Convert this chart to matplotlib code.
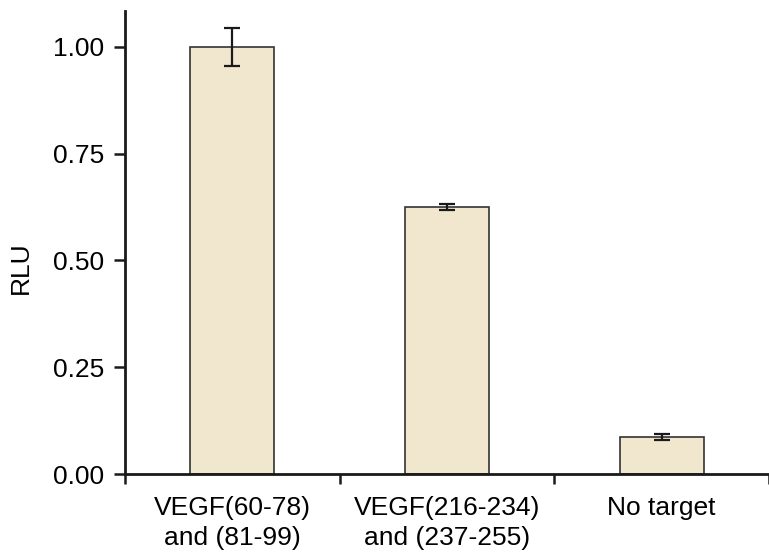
import matplotlib.pyplot as plt
import numpy as np

# values
categories = ["VEGF(60-78)\nand (81-99)", "VEGF(216-234)\nand (237-255)", "No target"]
rlu = [1.00, 0.625, 0.087]
rlu_err = [0.045, 0.006, 0.007]
yticks = [0.00, 0.25, 0.50, 0.75, 1.00]

plt.rcParams['font.family'] = ['Liberation Sans', 'DejaVu Sans']

fig = plt.figure(figsize=(7.69, 5.54), dpi=100)
ax = fig.add_axes([0.1625, 0.1444, 0.8375, 0.8365])

x = np.arange(len(categories))
ax.bar(x, rlu, width=0.39, color='#F1E6CE', edgecolor='#333333', linewidth=1.2, zorder=2)
ax.errorbar(x, rlu, yerr=rlu_err, fmt='none', ecolor='#1a1a1a',
            elinewidth=1.6, capsize=6, capthick=1.6, zorder=3)

ax.set_xlim(-0.5, 2.48)
ax.set_ylim(0, 1.085)

# labels at bar centres, tick marks between categories
ax.set_xticks(x)
ax.set_xticklabels(categories, fontsize=19, linespacing=1.3)
ax.tick_params(axis='x', which='major', length=0, pad=16)
ax.set_xticks(np.arange(-0.5, len(categories), 1.0), minor=True)
ax.tick_params(axis='x', which='minor', length=7, width=1.8, direction='out', color='#1a1a1a')

ax.set_yticks(yticks)
ax.set_yticklabels([f"{v:.2f}" for v in yticks], fontsize=19)
ax.tick_params(axis='y', length=8, width=1.8, pad=7, color='#1a1a1a')
ax.set_ylabel("RLU", fontsize=19)
ax.yaxis.set_label_coords(-0.143, 0.446)

for side in ['top', 'right']:
    ax.spines[side].set_visible(False)
for side in ['left', 'bottom']:
    ax.spines[side].set_linewidth(2.0)
    ax.spines[side].set_color('#1a1a1a')

fig.savefig("out.png", dpi=100)
